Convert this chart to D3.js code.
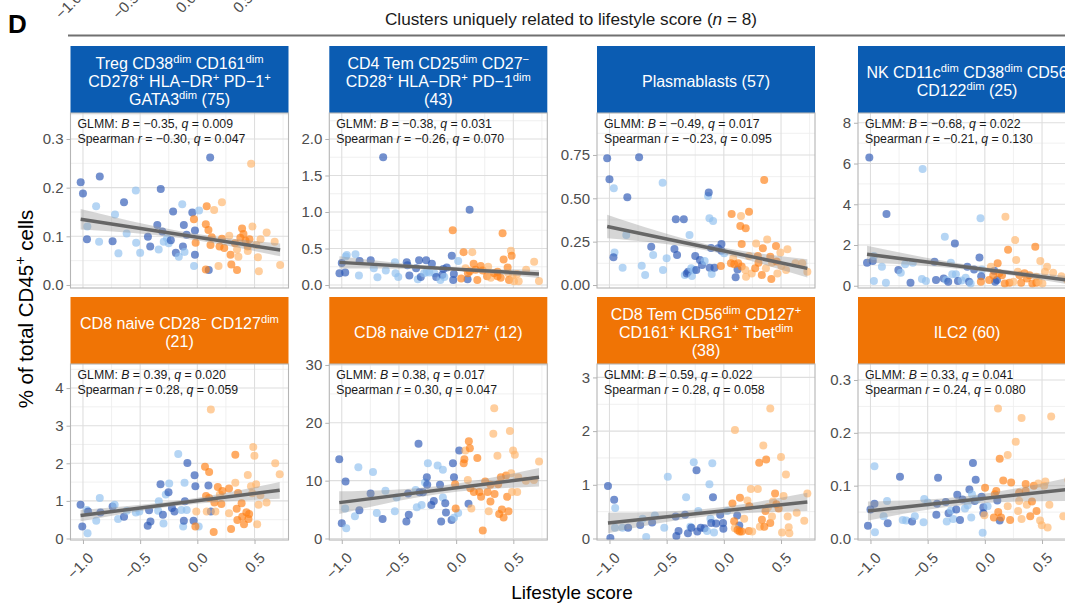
<!DOCTYPE html>
<html>
<head>
<meta charset="utf-8">
<script src="https://cdn.jsdelivr.net/npm/d3@7"></script>
<style>
body { margin: 0; background: #fff; overflow: hidden; }
svg { display: block; font-family: "Liberation Sans", Arial, Helvetica, sans-serif; }
text { white-space: pre; }
</style>
</head>
<body>
<script>
var width = 1065,
    height = 605;

// strip titles, ^{..} = superscript, *..* = italic
var stripLabels = [
    "Treg CD38^{dim} CD161^{dim}\nCD278^{+} HLA−DR^{+} PD−1^{+}\nGATA3^{dim} (75)",
    "CD4 Tem CD25^{dim} CD27^{−}\nCD28^{+} HLA−DR^{+} PD−1^{dim}\n(43)",
    "Plasmablasts (57)",
    "NK CD11c^{dim} CD38^{dim} CD56\nCD122^{dim} (25)",
    "CD8 naive CD28^{−} CD127^{dim}\n(21)",
    "CD8 naive CD127^{+} (12)",
    "CD8 Tem CD56^{dim} CD127^{+}\nCD161^{+} KLRG1^{+} Tbet^{dim}\n(38)",
    "ILC2 (60)"
];
var direction = ["down", "down", "down", "down", "up", "up", "up", "up"];
var glmmB = ["−0.35", "−0.38", "−0.49", "−0.68", "0.39", "0.38", "0.59", "0.33"];
var glmmQ = ["0.009", "0.031", "0.017", "0.022", "0.020", "0.017", "0.022", "0.041"];
var spearmanR = ["−0.30", "−0.26", "−0.23", "−0.21", "0.28", "0.30", "0.28", "0.24"];
var spearmanQ = ["0.047", "0.070", "0.095", "0.130", "0.059", "0.047", "0.058", "0.080"];

var xTicks = [-1, -0.5, 0, 0.5];
var xLimits = [-1.109, 0.797];
var yLimits = [[-0.0062, 0.3534], [-0.041, 2.356], [-0.0173, 0.992], [-0.11, 8.48],
               [-0.04, 4.64], [-0.26, 30.17], [-0.028, 3.25], [-0.0028, 0.3303]];
var yTicks = [[0, 0.1, 0.2, 0.3], [0, 0.5, 1, 1.5, 2], [0, 0.25, 0.5, 0.75], [0, 2, 4, 6, 8],
              [0, 1, 2, 3, 4], [0, 10, 20, 30], [0, 1, 2, 3], [0, 0.1, 0.2, 0.3]];
var yFormats = [".1f", ".1f", ".2f", "d", "d", "d", "d", ".1f"];

// fitted line at lowest / highest lifestyle score, and CI half width at left, middle, right
var fitY = [[0.135, 0.072], [0.31, 0.15], [0.337, 0.096], [1.55, 0.28],
            [0.61, 1.28], [6.2, 10.6], [0.29, 0.68], [0.052, 0.093]];
var bandHalf = [[0.021, 0.007, 0.013], [0.085, 0.025, 0.055], [0.068, 0.018, 0.053], [0.41, 0.12, 0.2],
                [0.15, 0.07, 0.22], [1.95, 0.7, 1.6], [0.19, 0.07, 0.17], [0.018, 0.008, 0.022]];

// [lifestyle score, % of CD45+, group] group: 0 dark blue, 1 light blue, 2 orange, 3 light orange
var treg = [[-1.02,0.211,0],[-1.0,0.188,0],[-0.965,0.094,0],[-0.962,0.120,1],[-0.853,0.223,0],[-0.885,0.162,1],[-0.859,0.089,1],[-0.741,0.090,0],[-0.72,0.145,1],[-0.69,0.065,1],[-0.641,0.170,0],[-0.618,0.106,1],[-0.538,0.194,1],[-0.535,0.087,1],[-0.50,0.066,1],[-0.432,0.099,0],[-0.412,0.079,0],[-0.35,0.123,0],[-0.338,0.073,1],[-0.32,0.197,0],[-0.306,0.110,0],[-0.294,0.089,1],[-0.265,0.096,1],[-0.25,0.086,1],[-0.232,0.092,0],[-0.212,0.151,0],[-0.188,0.066,0],[-0.162,0.058,1],[-0.132,0.166,1],[-0.126,0.079,0],[-0.118,0.123,0],[-0.112,0.068,1],[-0.094,0.103,0],[-0.044,0.149,0],[-0.029,0.039,1],[-0.021,0.062,0],[-0.021,0.112,0],[0.015,0.153,1],[0.112,0.262,0],[0.10,0.031,0],
    [-0.03,0.135,2],[-0.015,0.087,2],[0.074,0.032,2],[0.074,0.125,2],[0.082,0.162,2],[0.097,0.113,2],[0.115,0.082,2],[0.126,0.098,2],[0.147,0.154,3],[0.185,0.039,3],[0.194,0.079,2],[0.215,0.170,3],[0.215,0.095,2],[0.235,0.076,2],[0.279,0.101,3],[0.29,0.062,2],[0.297,0.042,2],[0.329,0.086,2],[0.347,0.073,3],[0.347,0.031,2],[0.359,0.058,3],[0.376,0.097,2],[0.391,0.116,2],[0.403,0.105,2],[0.421,0.091,2],[0.44,0.079,2],[0.441,0.070,3],[0.456,0.094,2],[0.47,0.249,3],[0.482,0.120,3],[0.515,0.082,3],[0.53,0.057,3],[0.538,0.028,3],[0.553,0.094,3],[0.606,0.108,3],[0.676,0.089,3],[0.724,0.041,3]];

var cd4Tem = [[-1.02,0.16,0],[-1.0,0.30,0],[-0.97,0.17,0],[-0.965,0.39,1],[-0.956,0.41,1],[-0.88,0.42,1],[-0.844,0.33,0],[-0.85,0.13,1],[-0.747,0.34,0],[-0.72,0.23,1],[-0.688,0.105,1],[-0.638,1.75,0],[-0.615,0.20,1],[-0.53,0.16,1],[-0.535,0.31,1],[-0.506,0.11,1],[-0.432,0.31,0],[-0.426,0.27,0],[-0.409,0.13,0],[-0.35,0.23,0],[-0.335,0.08,1],[-0.324,0.34,0],[-0.309,0.11,0],[-0.28,0.16,1],[-0.262,0.34,0],[-0.256,0.18,1],[-0.235,0.17,1],[-0.212,0.29,0],[-0.19,0.16,1],[-0.174,0.11,0],[-0.138,0.07,1],[-0.12,0.14,0],[-0.112,0.22,0],[-0.103,0.11,1],[-0.082,0.24,0],[-0.038,0.40,0],[-0.02,0.15,0],[-0.026,0.07,0],[0.018,0.33,1],[0.118,1.03,0],[0.10,0.08,0],
    [-0.03,0.75,2],[0.065,0.45,2],[0.044,0.09,2],[0.082,0.23,3],[0.103,0.16,2],[0.12,0.19,2],[0.141,0.45,3],[0.153,0.29,2],[0.17,0.21,2],[0.185,0.07,2],[0.215,0.26,2],[0.232,0.20,2],[0.27,0.12,2],[0.28,0.25,3],[0.303,0.10,3],[0.332,0.16,2],[0.362,0.12,2],[0.362,0.18,2],[0.39,0.10,2],[0.406,0.71,2],[0.415,0.35,2],[0.45,0.24,2],[0.456,0.16,3],[0.462,0.07,2],[0.479,0.47,3],[0.485,0.40,2],[0.494,0.13,3],[0.506,0.05,3],[0.532,0.15,3],[0.547,0.05,3],[0.612,0.21,3],[0.682,0.32,3],[0.724,0.055,3]];

var plasmablasts = [[-1.02,0.731,0],[-1.0,0.61,0],[-0.962,0.558,1],[-0.956,0.187,1],[-0.965,0.16,0],[-0.885,0.10,1],[-0.853,0.288,1],[-0.844,0.506,0],[-0.741,0.737,0],[-0.718,0.111,1],[-0.688,0.058,1],[-0.635,0.221,0],[-0.618,0.173,1],[-0.535,0.59,1],[-0.532,0.087,1],[-0.50,0.154,1],[-0.432,0.208,0],[-0.42,0.379,0],[-0.409,0.173,0],[-0.35,0.379,0],[-0.341,0.058,1],[-0.324,0.067,0],[-0.312,0.077,0],[-0.30,0.288,1],[-0.285,0.096,1],[-0.279,0.052,1],[-0.25,0.167,0],[-0.262,0.087,1],[-0.241,0.087,0],[-0.209,0.144,0],[-0.191,0.115,0],[-0.168,0.138,1],[-0.138,0.513,1],[-0.132,0.533,0],[-0.126,0.385,1],[-0.124,0.10,0],[-0.112,0.213,0],[-0.106,0.063,1],[-0.094,0.369,1],[-0.082,0.10,0],[-0.05,0.212,0],[-0.021,0.237,0],[-0.021,0.198,0],[0.003,0.183,1],[0.103,0.044,0],[0.12,0.09,0],
    [-0.026,0.11,2],[0.068,0.41,2],[0.15,0.398,3],[0.191,0.327,2],[0.144,0.34,2],[0.22,0.423,2],[0.156,0.237,2],[0.082,0.154,3],[0.062,0.125,2],[0.091,0.119,2],[0.126,0.125,2],[0.156,0.106,2],[0.188,0.087,3],[0.194,0.048,3],[0.22,0.167,3],[0.244,0.067,3],[0.274,0.096,2],[0.282,0.24,3],[0.297,0.167,2],[0.303,0.129,2],[0.332,0.058,2],[0.341,0.212,2],[0.353,0.606,2],[0.368,0.096,3],[0.379,0.263,3],[0.406,0.163,2],[0.421,0.129,3],[0.415,0.035,2],[0.456,0.225,2],[0.462,0.135,2],[0.468,0.067,3],[0.494,0.187,3],[0.503,0.11,3],[0.544,0.087,3],[0.556,0.206,3],[0.626,0.125,3],[0.685,0.125,3],[0.73,0.077,3]];

var nkCells = [[-1.01,6.3,0],[-1.03,1.13,0],[-0.98,1.21,0],[-0.97,0.23,1],[-0.97,1.46,1],[-0.9,0.93,1],[-0.865,0.15,1],[-0.86,3.52,0],[-0.756,0.77,0],[-0.735,0.64,1],[-0.697,1.05,1],[-0.65,0.15,0],[-0.63,1.13,1],[-0.55,0.33,1],[-0.544,5.73,1],[-0.515,0.23,1],[-0.44,1.18,0],[-0.427,0.28,0],[-0.36,0.36,0],[-0.35,2.41,1],[-0.338,0.28,1],[-0.32,0.2,0],[-0.297,1.13,1],[-0.285,0.57,1],[-0.262,2.08,0],[-0.253,0.57,1],[-0.235,0.23,0],[-0.203,0.26,1],[-0.168,0.39,1],[-0.153,0.93,0],[-0.138,0.2,0],[-0.124,0.11,1],[-0.094,0.8,0],[-0.047,1.39,0],[-0.038,3.31,1],[-0.026,0.8,1],[-0.032,0.47,0],[0.082,0.74,0],[0.09,0.2,0],[0.106,0.28,0],
    [-0.035,0.2,2],[0.038,0.28,2],[0.053,0.93,3],[0.074,0.52,2],[0.112,1.1,2],[0.126,0.61,2],[0.15,0.52,2],[0.174,0.11,2],[0.18,3.39,3],[0.203,1.77,2],[0.215,0.15,2],[0.25,0.2,3],[0.265,2.24,3],[0.274,1.26,3],[0.288,0.69,3],[0.303,0.52,2],[0.318,0.15,2],[0.347,0.61,2],[0.368,0.36,2],[0.391,0.52,2],[0.415,0.11,2],[0.441,1.91,2],[0.45,0.44,3],[0.45,0.15,2],[0.468,0.2,3],[0.485,1.21,3],[0.503,0.11,3],[0.526,0.69,3],[0.544,0.93,3],[0.597,0.64,3],[0.67,0.47,3],[0.72,0.28,3]];

var cd8NaiveCd28 = [[-1.021,0.90,0],[-1.006,0.32,0],[-0.96,0.14,1],[-0.966,0.76,1],[-0.955,0.72,0],[-0.884,0.47,1],[-0.853,1.08,1],[-0.847,0.69,0],[-0.741,0.85,0],[-0.723,0.90,1],[-0.693,0.52,1],[-0.641,0.58,0],[-0.617,0.74,1],[-0.538,0.69,1],[-0.507,0.72,1],[-0.434,0.34,0],[-0.41,0.45,0],[-0.422,0.75,0],[-0.343,0.74,1],[-0.337,0.99,1],[-0.322,1.44,0],[-0.301,0.63,0],[-0.296,0.40,1],[-0.276,1.17,1],[-0.252,1.23,0],[-0.246,1.46,1],[-0.222,0.81,0],[-0.20,0.72,0],[-0.167,2.25,1],[-0.139,0.76,1],[-0.124,0.32,1],[-0.118,0.47,0],[-0.112,1.48,1],[-0.109,0.99,0],[-0.093,0.76,1],[-0.087,2.01,0],[-0.033,0.47,0],[-0.024,1.68,0],[-0.017,1.39,0],[0.012,0.32,1],[0.097,1.41,0],[0.118,0.72,0],
    [-0.017,0.32,2],[-0.009,0.72,3],[0.067,1.91,2],[0.076,1.13,2],[0.082,0.72,3],[0.103,1.77,2],[0.103,1.08,2],[0.118,3.43,3],[0.143,0.17,2],[0.149,0.96,2],[0.158,0.72,3],[0.179,1.37,2],[0.197,1.17,3],[0.21,0.92,2],[0.219,1.26,2],[0.277,1.33,2],[0.277,0.67,3],[0.295,0.25,2],[0.332,2.23,2],[0.332,1.48,3],[0.344,0.79,2],[0.35,0.49,2],[0.356,1.21,2],[0.387,0.94,2],[0.392,0.58,2],[0.408,0.38,2],[0.429,0.70,2],[0.441,1.69,3],[0.447,0.52,2],[0.453,0.65,2],[0.469,1.39,3],[0.48,1.2,3],[0.489,2.43,3],[0.499,2.20,3],[0.514,1.44,3],[0.523,0.38,3],[0.535,0.90,3],[0.551,1.15,3],[0.605,0.96,3],[0.681,2.0,3],[0.72,1.71,3]];

var cd8NaiveCd127 = [[-1.022,13.7,0],[-1.0,2.65,0],[-0.961,1.76,1],[-0.97,5.2,1],[-0.967,9.85,0],[-0.885,3.84,1],[-0.855,12.3,1],[-0.846,4.9,0],[-0.748,7.8,0],[-0.727,11.5,1],[-0.694,4.4,1],[-0.643,3.35,0],[-0.618,8.25,1],[-0.536,4.7,1],[-0.52,7.1,1],[-0.435,2.95,0],[-0.414,4.1,0],[-0.42,7.8,0],[-0.354,8.4,1],[-0.344,5.4,1],[-0.329,16.4,0],[-0.32,8.0,0],[-0.302,5.8,1],[-0.29,8.0,0],[-0.272,9.7,1],[-0.256,10.6,0],[-0.253,9.3,0],[-0.247,13.0,1],[-0.217,5.8,0],[-0.195,6.5,0],[-0.162,12.6,1],[-0.141,9.3,0],[-0.131,2.95,0],[-0.116,11.9,1],[-0.116,7.1,1],[-0.095,6.1,0],[-0.089,4.5,0],[-0.04,3.2,0],[-0.028,13.0,0],[-0.019,10.6,0],[-0.019,3.6,1],[0.018,4.4,1],[0.027,15.2,0],[0.108,6.0,0],
    [-0.009,9.4,2],[-0.004,5.2,2],[0.066,13.0,2],[0.072,13.7,2],[0.081,15.2,3],[0.102,10.1,3],[0.111,16.8,2],[0.12,15.6,2],[0.124,8.7,2],[0.133,5.2,3],[0.155,8.05,2],[0.185,13.9,2],[0.203,8.05,2],[0.218,7.2,2],[0.233,1.4,2],[0.254,9.85,2],[0.275,8.05,2],[0.285,4.7,3],[0.3,6.4,2],[0.3,9.3,2],[0.325,18.1,3],[0.333,22.5,3],[0.336,7.7,2],[0.361,14.3,3],[0.367,9.4,2],[0.376,4.25,2],[0.391,10.6,2],[0.4,5.0,2],[0.415,3.65,2],[0.437,10.9,2],[0.446,7.2,2],[0.458,4.7,2],[0.47,18.6,3],[0.482,11.3,3],[0.488,8.05,3],[0.498,15.2,3],[0.513,14.5,3],[0.534,8.05,3],[0.543,10.6,3],[0.61,10.0,3],[0.68,10.1,3],[0.725,13.3,3]];

var cd8Tem = [[-1.013,0.98,0],[-0.992,0.01,0],[-0.959,0.72,0],[-0.95,0.57,1],[-0.952,0.2,1],[-0.886,0.2,1],[-0.837,0.2,0],[-0.731,0.25,0],[-0.71,0.37,1],[-0.679,0.03,1],[-0.627,0.3,0],[-0.603,0.43,1],[-0.521,0.2,1],[-0.49,1.15,1],[-0.415,0.045,0],[-0.396,0.14,0],[-0.421,0.41,0],[-0.339,0.44,0],[-0.33,0.77,1],[-0.314,0.1,0],[-0.293,0.22,1],[-0.284,0.2,0],[-0.263,1.42,1],[-0.239,1.27,0],[-0.232,0.13,0],[-0.223,0.51,1],[-0.202,0.2,0],[-0.169,0.19,0],[-0.147,0.14,1],[-0.126,1.01,1],[-0.117,0.37,1],[-0.11,0.29,0],[-0.101,1.4,1],[-0.095,0.77,0],[-0.086,0.11,1],[-0.068,0.28,0],[-0.032,0.44,0],[-0.007,0.29,0],[-0.004,0.18,0],[0.029,0.51,1],[0.117,0.43,0],[0.135,0.24,0],
    [0.075,0.65,2],[0.09,0.32,2],[0.096,0.19,3],[0.12,0.16,2],[0.138,0.13,2],[0.141,0.76,2],[0.156,0.13,2],[0.178,0.37,3],[0.206,0.71,3],[0.218,0.14,2],[0.223,0.6,2],[0.236,0.92,3],[0.248,0.13,3],[0.297,0.92,3],[0.309,1.41,2],[0.315,0.22,3],[0.333,0.35,2],[0.345,1.73,3],[0.354,0.22,2],[0.364,0.51,2],[0.37,1.47,2],[0.385,0.58,3],[0.406,0.29,2],[0.421,0.41,3],[0.43,0.69,3],[0.448,0.84,2],[0.46,0.64,2],[0.479,0.56,2],[0.5,1.52,3],[0.509,0.11,3],[0.522,0.79,3],[0.543,1.19,3],[0.558,0.41,3],[0.567,0.21,3],[0.573,0.1,3],[0.637,0.48,3],[0.703,0.33,3],[0.73,0.84,3],[0.097,2.02,3],[0.406,2.42,3]];

var ilc2 = [[-1.022,0.024,0],[-1.0,0.055,0],[-0.965,0.066,0],[-0.965,0.137,1],[-0.961,0.012,1],[-0.885,0.042,1],[-0.855,0.071,1],[-0.849,0.029,0],[-0.742,0.117,0],[-0.718,0.035,1],[-0.688,0.034,1],[-0.636,0.032,0],[-0.612,0.042,1],[-0.536,0.031,1],[-0.53,0.075,1],[-0.5,0.068,1],[-0.424,0.045,0],[-0.409,0.115,0],[-0.418,0.066,0],[-0.342,0.069,0],[-0.333,0.032,1],[-0.317,0.048,0],[-0.296,0.053,1],[-0.277,0.037,1],[-0.25,0.055,0],[-0.241,0.083,0],[-0.217,0.035,0],[-0.195,0.074,0],[-0.174,0.057,1],[-0.15,0.063,1],[-0.135,0.093,0],[-0.119,0.04,1],[-0.113,0.084,1],[-0.104,0.143,0],[-0.089,0.071,0],[-0.08,0.111,0],[-0.071,0.074,1],[-0.028,0.079,0],[-0.013,0.048,0],[-0.013,0.059,0],[-0.019,0.011,1],[0.024,0.061,1],[0.109,0.072,0],[0.13,0.034,0],
    [0.002,0.096,2],[-0.004,0.044,3],[0.079,0.04,2],[0.087,0.084,2],[0.1,0.09,2],[0.117,0.05,2],[0.13,0.151,2],[0.142,0.04,2],[0.161,0.11,2],[0.2,0.158,3],[0.2,0.061,3],[0.221,0.035,2],[0.23,0.106,2],[0.27,0.183,3],[0.291,0.052,3],[0.3,0.087,2],[0.3,0.071,3],[0.321,0.037,3],[0.357,0.103,2],[0.357,0.09,2],[0.367,0.064,3],[0.397,0.042,2],[0.412,0.07,2],[0.428,0.1,2],[0.452,0.052,2],[0.467,0.104,3],[0.483,0.034,3],[0.498,0.025,3],[0.519,0.1,3],[0.529,0.108,3],[0.549,0.021,3],[0.564,0.064,3],[0.686,0.042,3],[0.73,0.111,3],[0.115,0.246,3],[0.321,0.228,3],[0.58,0.231,3]];

var panels = [treg, cd4Tem, plasmablasts, nkCells, cd8NaiveCd28, cd8NaiveCd127, cd8Tem, ilc2];

var groupColor = ["#2a56b5", "#8fc0ef", "#ff7f14", "#ffb46a"];
var stripColor = { down: "#0b5cb2", up: "#f07405" };

var colLeft = [70.5, 329.3, 597, 858],
    panelW = 218,
    stripTop = [46, 297],
    stripH = 67,
    panelTop = [113, 364],
    panelBottom = [288, 540];

var svg = d3.select("body")
    .append("svg")
    .attr("width", width)
    .attr("height", height);

function richText(text, str, size) {
    var raised = false;
    str.split(/(\^\{[^}]*\}|\*[^*]+\*)/).forEach(function (p) {
        if (!p) return;
        var t = text.append("tspan");
        if (p[0] === "^") {
            t.text(p.slice(2, -1)).attr("font-size", size * 0.7);
            if (!raised) t.attr("dy", -size * 0.38);
            raised = true;
        } else {
            if (p[0] === "*") t.text(p.slice(1, -1)).attr("font-style", "italic");
            else t.text(p);
            if (raised) t.attr("dy", size * 0.38);
            raised = false;
        }
    });
}

function drawXAxis(sel, x, y0) {
    var ax = sel.append("g")
        .attr("transform", "translate(0," + y0 + ")")
        .call(d3.axisBottom(x).tickValues(xTicks).tickSize(4).tickFormat(d3.format(".1f")));
    ax.attr("font-family", null).attr("font-size", 15);
    ax.select(".domain").remove();
    ax.selectAll("line").attr("stroke", "#b3b3b3");
    ax.selectAll("text")
        .attr("fill", "#4d4d4d")
        .attr("y", 0)
        .attr("dy", "0.75em")
        .attr("text-anchor", "end")
        .attr("transform", "translate(3,11) rotate(-45)");
    return ax;
}

// header
svg.append("text")
    .attr("x", 8).attr("y", 33)
    .attr("font-size", 26).attr("font-weight", "bold")
    .text("D");

var header = svg.append("text")
    .attr("x", 571).attr("y", 25)
    .attr("text-anchor", "middle")
    .attr("font-size", 17.2).attr("fill", "#1a1a1a");
richText(header, "Clusters uniquely related to lifestyle score (*n* = 8)", 17.2);

svg.append("line")
    .attr("x1", 68).attr("x2", width)
    .attr("y1", 35.5).attr("y2", 35.5)
    .attr("stroke", "#707070").attr("stroke-width", 2);

// tail of the x axis of the figure part above
var ghost = drawXAxis(svg, d3.scaleLinear().domain(xLimits).range([colLeft[0] - 12, colLeft[0] - 12 + panelW]), -20);
ghost.selectAll("line").remove();

panels.forEach(function (points, i) {
    var col = i % 4, row = Math.floor(i / 4);
    var left = colLeft[col], top = panelTop[row], bottom = panelBottom[row];
    var x = d3.scaleLinear().domain(xLimits).range([left, left + panelW]);
    var y = d3.scaleLinear().domain(yLimits[i]).range([bottom, top]);
    var g = svg.append("g");

    // strip
    g.append("rect")
        .attr("x", left).attr("y", stripTop[row])
        .attr("width", panelW).attr("height", stripH)
        .attr("fill", stripColor[direction[i]]);
    var lines = stripLabels[i].split("\n");
    lines.forEach(function (line, j) {
        var t = g.append("text")
            .attr("x", left + panelW / 2)
            .attr("y", stripTop[row] + stripH / 2 + 1.5 + (j - (lines.length - 1) / 2) * 18)
            .attr("dy", "0.35em")
            .attr("text-anchor", "middle")
            .attr("fill", "#fff")
            .attr("font-size", 16);
        richText(t, line, 16);
    });

    svg.append("clipPath").attr("id", "clip" + i)
        .append("rect")
        .attr("x", left).attr("y", top)
        .attr("width", panelW).attr("height", bottom - top);

    var inner = g.append("g").attr("clip-path", "url(#clip" + i + ")");
    inner.append("rect")
        .attr("x", left).attr("y", top)
        .attr("width", panelW).attr("height", bottom - top)
        .attr("fill", "#fff");

    // grid
    var ys = yTicks[i], yStep = ys[1] - ys[0];
    var yMinor = [ys[0] - yStep / 2].concat(ys.map(function (d) { return d + yStep / 2; }))
        .filter(function (d) { return d > yLimits[i][0] && d < yLimits[i][1]; });
    var xMinor = [-1.25, -0.75, -0.25, 0.25, 0.75].filter(function (d) { return d > xLimits[0] && d < xLimits[1]; });

    inner.selectAll(".ymin").data(yMinor).enter().append("line")
        .attr("x1", left).attr("x2", left + panelW)
        .attr("y1", function (d) { return y(d); }).attr("y2", function (d) { return y(d); })
        .attr("stroke", "#ececec").attr("stroke-width", 0.8);
    inner.selectAll(".xmin").data(xMinor).enter().append("line")
        .attr("y1", top).attr("y2", bottom)
        .attr("x1", function (d) { return x(d); }).attr("x2", function (d) { return x(d); })
        .attr("stroke", "#ececec").attr("stroke-width", 0.8);
    inner.selectAll(".ymaj").data(ys).enter().append("line")
        .attr("x1", left).attr("x2", left + panelW)
        .attr("y1", function (d) { return y(d); }).attr("y2", function (d) { return y(d); })
        .attr("stroke", "#dedede").attr("stroke-width", 1.1);
    inner.selectAll(".xmaj").data(xTicks).enter().append("line")
        .attr("y1", top).attr("y2", bottom)
        .attr("x1", function (d) { return x(d); }).attr("x2", function (d) { return x(d); })
        .attr("stroke", "#dedede").attr("stroke-width", 1.1);

    // points
    inner.selectAll("circle")
        .data(points)
        .enter().append("circle")
        .attr("cx", function (d) { return x(d[0]); })
        .attr("cy", function (d) { return y(d[1]); })
        .attr("r", 4)
        .attr("fill", function (d) { return groupColor[d[2]]; })
        .attr("fill-opacity", 0.66);

    // fit + confidence band
    var ext = d3.extent(points, function (d) { return d[0]; });
    var fit = d3.scaleLinear().domain(ext).range(fitY[i]);
    var band = [ext[0], -0.15, ext[1]].map(function (v, k) {
        return { x: v, lo: fit(v) - bandHalf[i][k], hi: fit(v) + bandHalf[i][k] };
    });
    inner.append("path")
        .datum(band)
        .attr("d", d3.area()
            .x(function (d) { return x(d.x); })
            .y0(function (d) { return y(d.lo); })
            .y1(function (d) { return y(d.hi); })
            .curve(d3.curveNatural))
        .attr("fill", "#999999")
        .attr("fill-opacity", 0.4);
    inner.append("line")
        .attr("x1", x(ext[0])).attr("y1", y(fitY[i][0]))
        .attr("x2", x(ext[1])).attr("y2", y(fitY[i][1]))
        .attr("stroke", "#666666")
        .attr("stroke-width", 3.5);

    g.append("rect")
        .attr("x", left).attr("y", top)
        .attr("width", panelW).attr("height", bottom - top)
        .attr("fill", "none")
        .attr("stroke", "#b5b5b5").attr("stroke-width", 1.1);

    // stats
    var s1 = g.append("text").attr("x", left + 7).attr("y", top + 15).attr("font-size", 12.3).attr("fill", "#1a1a1a");
    richText(s1, "GLMM: *B* = " + glmmB[i] + ", *q* = " + glmmQ[i], 12.3);
    var s2 = g.append("text").attr("x", left + 7).attr("y", top + 29.5).attr("font-size", 12.3).attr("fill", "#1a1a1a");
    richText(s2, "Spearman *r* = " + spearmanR[i] + ", *q* = " + spearmanQ[i], 12.3);

    // axes
    var yAxis = g.append("g")
        .attr("transform", "translate(" + left + ",0)")
        .call(d3.axisLeft(y).tickValues(ys).tickSize(4).tickPadding(3).tickFormat(d3.format(yFormats[i])));
    yAxis.attr("font-family", null).attr("font-size", 15);
    yAxis.select(".domain").remove();
    yAxis.selectAll("line").attr("stroke", "#b3b3b3");
    yAxis.selectAll("text").attr("fill", "#4d4d4d");

    if (row === 1) drawXAxis(g, x, bottom);
});

// axis titles
var yTitle = svg.append("text")
    .attr("transform", "translate(33,309) rotate(-90)")
    .attr("text-anchor", "middle")
    .attr("font-size", 20.5);
richText(yTitle, "% of total CD45^{+} cells", 20.5);

svg.append("text")
    .attr("x", 572).attr("y", 599)
    .attr("text-anchor", "middle")
    .attr("font-size", 19)
    .text("Lifestyle score");
</script>
</body>
</html>
